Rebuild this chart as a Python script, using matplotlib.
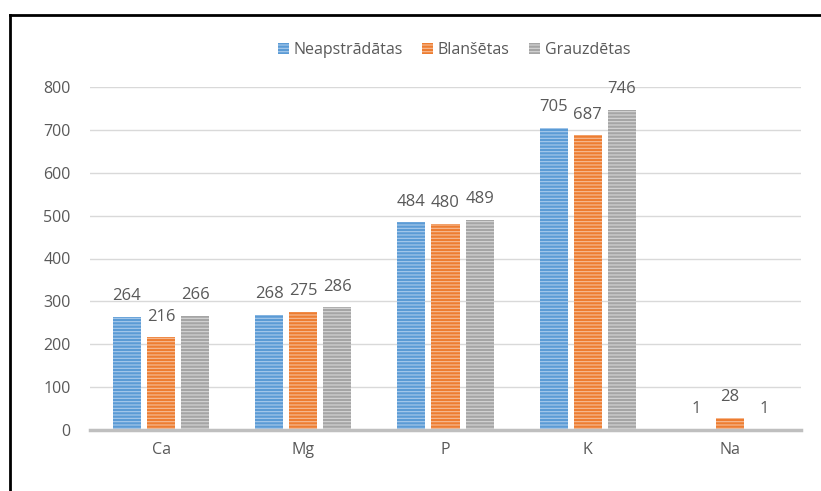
import matplotlib
matplotlib.use("Agg")
import matplotlib.pyplot as plt
import numpy as np
from matplotlib.patches import Rectangle
from matplotlib.lines import Line2D

plt.rcParams['font.family'] = ['Open Sans', 'DejaVu Sans']
plt.rcParams['hatch.linewidth'] = 0.8

categories = ["Ca", "Mg", "P", "K", "Na"]
series_names = ["Neapstrādātas", "Blanšētas", "Grauzdētas"]
neapstradatas = [264, 268, 484, 705, 1]
blansetas = [216, 275, 480, 687, 28]
grauzdetas = [266, 286, 489, 746, 1]
yticks = [0, 100, 200, 300, 400, 500, 600, 700, 800]

colors = ["#5B9BD5", "#ED7D31", "#A5A5A5"]
hatch_cols = ["#A9CBEC", "#F6BE98", "#D6D6D6"]
text_col = "#595959"

W, H = 821, 491
fig = plt.figure(figsize=(W / 100, H / 100), dpi=100)
ax = fig.add_axes([90 / W, 1 - 430 / H, (801 - 90) / W, (430 - 87) / H])

x = np.arange(len(categories))
bw = 0.197
off = 0.24
for i, vals in enumerate([neapstradatas, blansetas, grauzdetas]):
    pos = x + (i - 1) * off
    ax.bar(pos, vals, width=bw, color=colors[i], edgecolor=hatch_cols[i],
           linewidth=0, hatch='-----', zorder=3)
    for p, v in zip(pos, vals):
        ax.text(p, v + 30, str(v), ha='center', va='bottom', fontsize=12,
                color=text_col, zorder=4)

ax.set_xlim(-0.5, len(categories) - 0.5)
ax.set_ylim(0, 800)
ax.set_yticks(yticks)
ax.set_yticklabels([str(t) for t in yticks])
ax.set_xticks(x)
ax.set_xticklabels(categories)
ax.tick_params(axis='both', length=0, colors=text_col, labelsize=11.5)
ax.tick_params(axis='y', pad=14)
ax.tick_params(axis='x', pad=9)
ax.grid(axis='y', color="#D9D9D9", linewidth=1, zorder=0)
for s in ['top', 'right', 'left']:
    ax.spines[s].set_visible(False)
ax.spines['bottom'].set_color("#BFBFBF")
ax.spines['bottom'].set_linewidth(2.5)
ax.spines['bottom'].set_zorder(5)

handles = [Rectangle((0, 0), 1, 1, facecolor=colors[i], edgecolor=hatch_cols[i],
                     linewidth=0, hatch='-----') for i in range(3)]
fig.legend(handles, series_names, loc='center', bbox_to_anchor=(454 / W, 1 - 50 / H),
           ncol=3, frameon=False, fontsize=11.5, handlelength=0.7, handleheight=0.7,
           handletextpad=0.3, columnspacing=1.2, labelcolor=text_col)

# outer border (top and left visible)
fig.add_artist(Line2D([10 / W, 10 / W], [0, 1 - 15 / H], transform=fig.transFigure,
                      color='black', linewidth=2))
fig.add_artist(Line2D([10 / W, 1], [1 - 15 / H, 1 - 15 / H], transform=fig.transFigure,
                      color='black', linewidth=2))

fig.savefig("out.png", dpi=100)
